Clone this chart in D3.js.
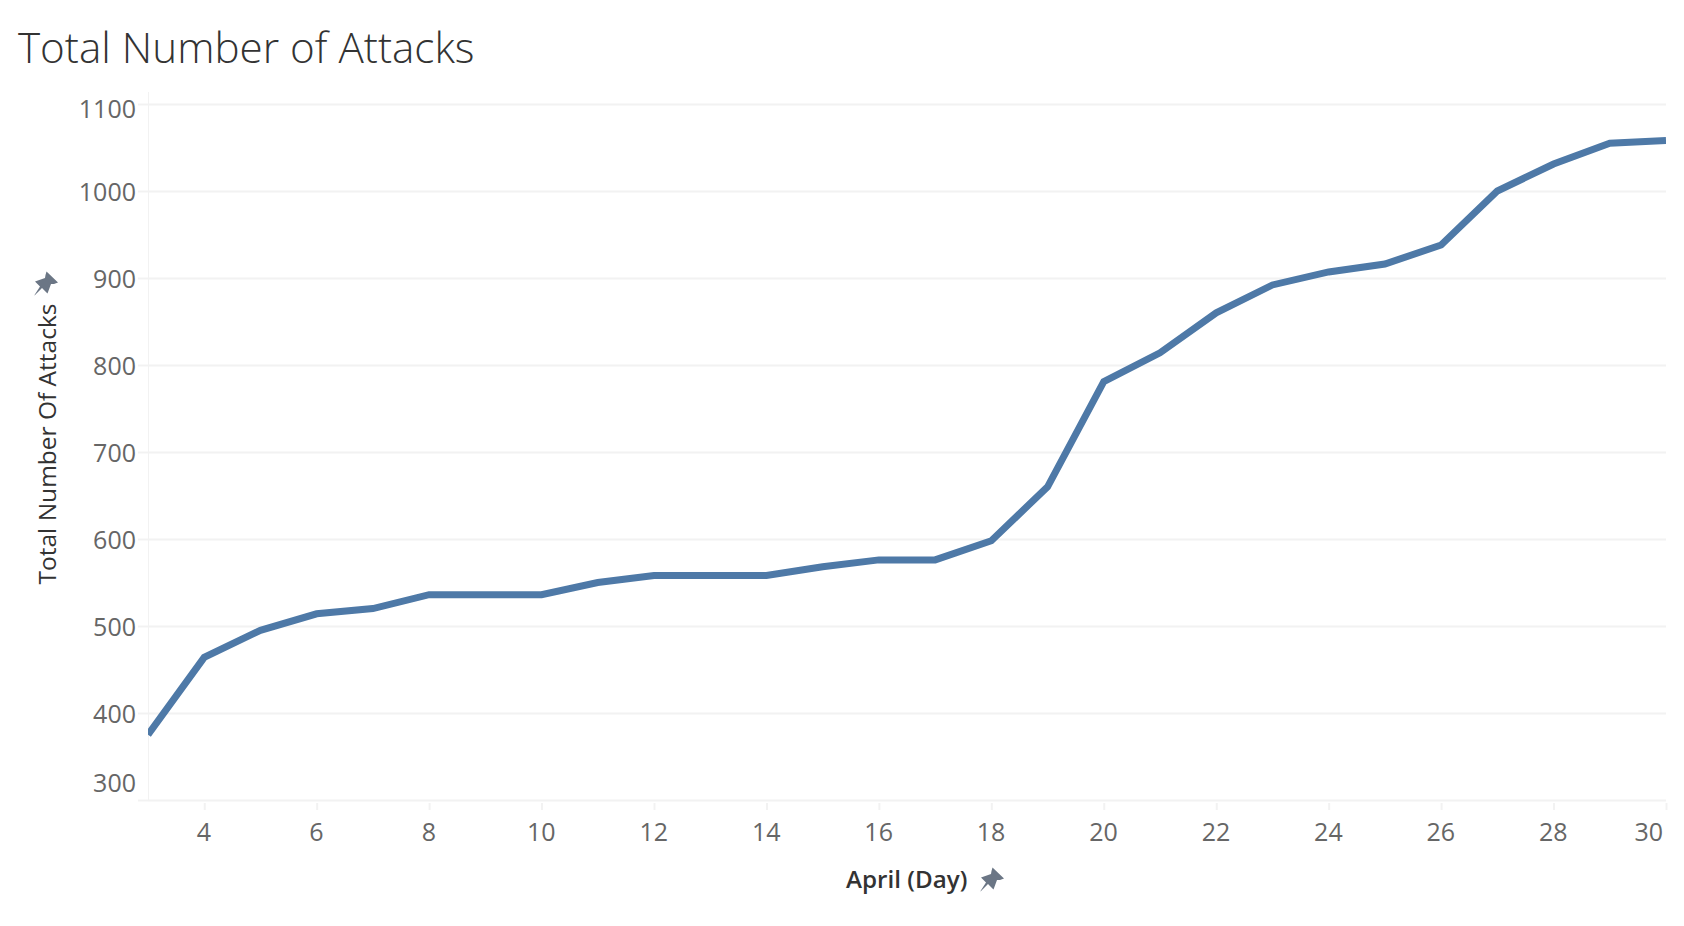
<!DOCTYPE html>
<html><head><meta charset="utf-8">
<script src="https://cdn.jsdelivr.net/npm/d3@7/dist/d3.min.js"></script>
<style>
html,body{margin:0;padding:0;background:#fff;overflow:hidden}
svg{display:block}
text{font-family:"Open Sans",Lato,sans-serif}
</style></head><body><svg id="c" width="1684" height="926"></svg>
<script>
const chartTitle = "Total Number of Attacks";
const xLabel = "April (Day)";
const yLabel = "Total Number Of Attacks";
const days = [3,4,5,6,7,8,9,10,11,12,13,14,15,16,17,18,19,20,21,22,23,24,25,26,27,28,29,30];
const attacks = [375,464,495,514,520,536,536,536,550,558,558,558,568,576,576,598,660,781,814,860,892,907,916,938,1000,1031,1055,1058];
const yTicks = [300,400,500,600,700,800,900,1000,1100];
const xTicks = [4,6,8,10,12,14,16,18,20,22,24,26,28,30];

const svg = d3.select("#c");
const x = d3.scaleLinear().domain([3,30]).range([148,1666]);
const y = d3.scaleLinear().domain([300,1100]).range([800,104]);
const grid = "#f2f2f2", tickText = "#666666", labelText = "#333333", pinColor = "#6b7685";

svg.append("defs").append("clipPath").attr("id","plot").append("rect")
  .attr("x",148).attr("y",90).attr("width",1518).attr("height",712);

svg.append("text").attr("x",18).attr("y",63).attr("font-size",42.2).attr("font-weight",300).attr("fill","#333").text(chartTitle);

// horizontal gridlines + y labels
const yAxis = svg.append("g").attr("transform","translate(148,0)")
  .call(d3.axisLeft(y).tickValues(yTicks).tickSize(10).tickPadding(2).tickFormat(d3.format("d")));
yAxis.select(".domain").attr("stroke",grid).attr("d","M0.5,92V800");
yAxis.selectAll(".tick line").attr("stroke",grid).attr("stroke-width",2);
yAxis.selectAll(".tick").append("line").attr("x1",0).attr("x2",1518).attr("stroke",grid).attr("stroke-width",2);
yAxis.selectAll(".tick text").attr("font-size",25).attr("fill",tickText)
  .attr("dy",d => d===1100 ? "0.55em" : d===300 ? "-0.33em" : "0.38em");

// x axis
const xAxis = svg.append("g").attr("transform","translate(0,800)")
  .call(d3.axisBottom(x).tickValues(xTicks).tickSize(0).tickPadding(23).tickFormat(d3.format("d")));
xAxis.select(".domain").remove();
xAxis.selectAll(".tick line").attr("y1",3).attr("y2",10).attr("stroke",grid).attr("stroke-width",2);
xAxis.selectAll(".tick text").attr("font-size",25).attr("fill",tickText)
  .attr("text-anchor",d => d===30 ? "end" : "middle")
  .attr("dx",d => d===30 ? "-0.14em" : "-0.03em");

// line
const line = d3.line().x((d,i)=>x(days[i])).y(d=>y(d));
svg.append("path").datum(attacks).attr("d",line).attr("fill","none").attr("clip-path","url(#plot)")
  .attr("stroke","#4e79a7").attr("stroke-width",7).attr("stroke-linejoin","miter");

// axis titles
svg.append("text").attr("x",846).attr("y",888).attr("text-anchor","start").attr("font-size",24.2)
  .attr("font-weight",600).attr("fill",labelText).text(xLabel);
svg.append("text").attr("transform","translate(56,444) rotate(-90)").attr("text-anchor","middle")
  .attr("font-size",24.5).attr("font-weight",500).attr("fill",labelText).text(yLabel);

// pin icons
const pin = "M0.5,-11.5 L12,-0.5 L8,1 L5,1 L1.5,10.5 L-4,5 L-11.5,12.5 L-11.5,12 L-6,3.5 L-11,-1.5 L-1,-5 L-0.5,-8 Z";
svg.append("path").attr("d",pin).attr("transform","translate(46,283)").attr("fill",pinColor);
svg.append("path").attr("d",pin).attr("transform","translate(992,879)").attr("fill",pinColor);
</script></body></html>
